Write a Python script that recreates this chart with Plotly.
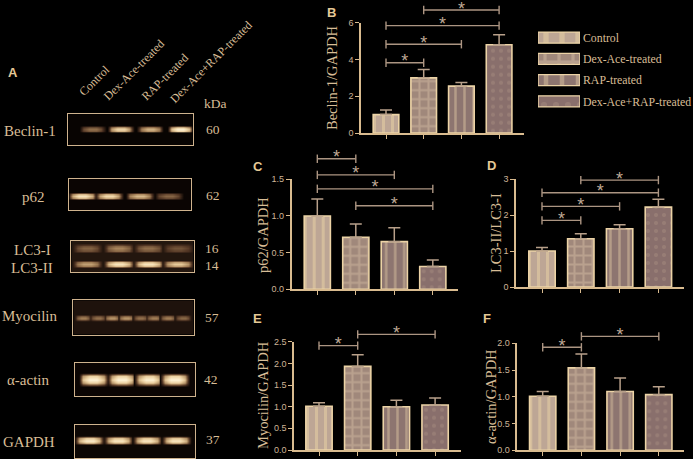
import numpy as np
import plotly.graph_objects as go

W, H = 693, 459
groups = ["Control", "Dex-Ace-treated", "RAP-treated", "Dex-Ace+RAP-treated"]

# bar chart values
beclin_vals = [1.0, 3.0, 2.55, 4.8]
beclin_tops = [1.25, 3.45, 2.75, 5.35]
beclin_brackets = [(0, 1, 3.82), (0, 2, 4.83), (0, 3, 5.84), (1, 3, 6.69)]
p62_vals = [1.0, 0.71, 0.65, 0.31]
p62_tops = [1.23, 0.89, 0.84, 0.40]
p62_brackets = [(0, 1, 1.78), (0, 2, 1.56), (0, 3, 1.37), (1, 3, 1.14)]
lc3_vals = [1.0, 1.34, 1.62, 2.22]
lc3_tops = [1.10, 1.48, 1.73, 2.44]
lc3_brackets = [(0, 1, 1.85), (0, 2, 2.24), (0, 3, 2.62), (1, 3, 2.97)]
myo_vals = [1.01, 1.93, 1.0, 1.04]
myo_tops = [1.09, 2.2, 1.15, 1.2]
myo_brackets = [(0, 1, 2.41), (1, 3, 2.67)]
actin_vals = [1.01, 1.54, 1.1, 1.04]
actin_tops = [1.1, 1.8, 1.35, 1.19]
actin_brackets = [(0, 1, 1.925), (1, 3, 2.13)]

# blot band strengths by lane
beclin_bands = [0.5, 0.85, 0.72, 1.0]
p62_bands = [0.9, 0.85, 0.72, 0.45]
lc3i_bands = [0.38, 0.5, 0.42, 0.32]
lc3ii_bands = [0.6, 0.9, 0.9, 0.75]
myo_bands = [0.5, 0.45, 0.58, 0.58, 0.45, 0.5, 0.5, 0.42]
actin_bands = [1.0, 1.0, 0.98, 1.0]
gapdh_bands = [0.95, 0.92, 0.92, 0.92]

TAN = "#d8bd96"
AXIS = "#d9bb8f"
EDGE = "#ecd3a6"
BRK = "#ac9582"
SERIF = "Liberation Serif"
SANS = "Liberation Sans"

styles = [
    dict(shape="|", fgcolor="#ecd3a6", bgcolor="#bda695", solidity=0.33),
    dict(shape="+", fgcolor="#d2baa2", bgcolor="#a0887b", solidity=0.4),
    dict(shape="|", fgcolor="#dcc4a0", bgcolor="#8d7570", solidity=0.28),
    dict(shape=".", fgcolor="#a58c80", bgcolor="#896f6c", solidity=0.2),
]
sizes = [9, 9, 9, 8]

fig = go.Figure()
layout = {}
annots = []
axis_n = [0]


def px(x, y):
    return x / W, 1 - y / H


def new_axes(x0, x1, ytop, ybot):
    axis_n[0] += 1
    n = axis_n[0]
    sx = "" if n == 1 else str(n)
    return n, sx, [x0 / W, x1 / W], [1 - ybot / H, 1 - ytop / H]


def text(s, x, y, size=14, color=TAN, font=SERIF, angle=0, bold=False):
    fx, fy = px(x, y)
    annots.append(dict(text=f"<b>{s}</b>" if bold else s, x=fx, y=fy, xref="paper", yref="paper",
                       showarrow=False, textangle=angle, xanchor="center", yanchor="middle",
                       font=dict(family=font, size=size, color=color)))


def bar_panel(vals, tops, brackets, box, yrange, dtick, fmt, title, title_xy, extra):
    x0, x1, ytop, ybot, c0, step = box
    n, sx, dx, dy = new_axes(x0, x1, ytop, ybot)
    xa, ya = f"x{sx}", f"y{sx}"
    # a hidden y axis on the same scale reaches above the drawn one, for the brackets
    n2, sy2, _, dy2 = new_axes(x0, x1, ytop - extra, ybot)
    ya2 = f"y{sy2}"
    for i, v in enumerate(vals):
        fig.add_trace(go.Bar(
            x=[i], y=[v], xaxis=xa, yaxis=ya, width=0.68, name=groups[i], showlegend=False,
            marker=dict(color=styles[i]["bgcolor"], line=dict(color=EDGE, width=1.6),
                        pattern=dict(size=sizes[i], **styles[i])),
            error_y=dict(type="data", symmetric=False, array=[tops[i] - v], arrayminus=[0],
                         color="#b8a08a", thickness=1.5, width=6),
        ))
    for a, b, h in brackets:
        fig.add_trace(go.Scatter(
            x=[a, b], y=[h, h], xaxis=xa, yaxis=ya2, mode="lines+markers", showlegend=False,
            cliponaxis=False, line=dict(color=BRK, width=1.4),
            marker=dict(symbol="line-ns", size=6, line=dict(color=BRK, width=1.4)),
        ))
        fig.add_trace(go.Scatter(
            x=[(a + b) / 2], y=[h], xaxis=xa, yaxis=ya2, mode="text", text=["*"], showlegend=False,
            cliponaxis=False, textposition="middle center",
            textfont=dict(family=SANS, size=18, color="#bfa895"),
        ))
    left = (x0 - c0) / step
    right = (x1 - c0) / step
    layout[f"xaxis{sx}"] = dict(domain=dx, anchor=ya, range=[left, right], tickvals=[0, 1, 2, 3],
                                ticktext=["", "", "", ""], ticks="outside", ticklen=4, tickwidth=1.3,
                                tickcolor=AXIS, showline=True, linecolor=AXIS, linewidth=1.6,
                                showgrid=False, zeroline=False, fixedrange=True)
    layout[f"yaxis{sx}"] = dict(domain=dy, anchor=xa, range=yrange, dtick=dtick, tickformat=fmt,
                                ticks="outside", ticklen=4, tickwidth=1.3, tickcolor=AXIS,
                                showline=True, linecolor=AXIS, linewidth=1.6, showgrid=False,
                                zeroline=False, fixedrange=True,
                                tickfont=dict(family=SANS, size=9, color="#cdb497"))
    layout[f"yaxis{sy2}"] = dict(domain=dy2, anchor=xa, visible=False, fixedrange=True,
                                 range=[0, yrange[1] * (ybot - ytop + extra) / (ybot - ytop)])
    text(title, title_xy[0], title_xy[1], size=14.5, angle=-90)


bar_panel(beclin_vals, beclin_tops, beclin_brackets, (361, 524, 22.7, 133, 386, 37.7), [0, 6], 2, "d",
          "Beclin-1/GAPDH", (332, 78), 20)
bar_panel(p62_vals, p62_tops, p62_brackets, (291.7, 458, 179.3, 289.3, 317.3, 38.5), [0, 1.5], 0.5, ".1f",
          "p62/GAPDH", (263, 235), 25)
bar_panel(lc3_vals, lc3_tops, lc3_brackets, (516, 684.3, 179, 287, 542, 38.8), [0, 3], 1, "d",
          "LC3-II/LC3-I", (496, 233), 10)
bar_panel(myo_vals, myo_tops, myo_brackets, (294, 461, 341.7, 450, 319, 38.7), [0, 2.5], 0.5, ".1f",
          "Myocilin/GAPDH", (263, 395), 20)
bar_panel(actin_vals, actin_tops, actin_brackets, (517.3, 684.3, 343.3, 450.3, 542.7, 38.7), [0, 2], 0.5, ".1f",
          "α-actin/GAPDH", (491, 397), 20)

# legend, drawn as a small horizontal bar chart with labels on the right
n, sx, dx, dy = new_axes(538, 580, 27, 112)
for i, g in enumerate(groups):
    st = dict(styles[i])
    fig.add_trace(go.Bar(
        y=[g], x=[1], orientation="h", xaxis=f"x{sx}", yaxis=f"y{sx}", width=0.52, showlegend=False,
        marker=dict(color=st["bgcolor"], line=dict(color=EDGE, width=1.4),
                    pattern=dict(size=[16, 14, 16, 12][i], **st)),
    ))
layout[f"xaxis{sx}"] = dict(domain=dx, anchor=f"y{sx}", range=[0, 1], visible=False, fixedrange=True)
layout[f"yaxis{sx}"] = dict(domain=dy, anchor=f"x{sx}", side="right", categoryorder="array",
                            categoryarray=groups[::-1], showline=False, showgrid=False, ticks="",
                            zeroline=False, fixedrange=True, ticklen=0, ticklabelstandoff=2,
                            tickfont=dict(family=SERIF, size=11.8, color=TAN))


# western blot panels, built from lane strengths
BLOT_SCALE = [[0, "#060201"], [0.3, "#4f3322"], [0.55, "#a58158"], [0.8, "#ecd0a0"], [1, "#fff3d6"]]


def blot(box, centres, half, rows, base):
    x0, x1, ytop, ybot = box
    n, sx, dx, dy = new_axes(x0, x1, ytop, ybot)
    xs = [0.0]
    col = [[0.0] * len(rows)]
    for i, c in enumerate(centres):
        for off, k in [(-1.25, 0.0), (-0.85, 0.75), (-0.3, 1.0), (0.3, 1.0), (0.85, 0.75), (1.25, 0.0)]:
            xs.append(c + off * half)
            col.append([k * r["levels"][i] for r in rows])
    xs.append(1.0)
    col.append([0.0] * len(rows))
    col = np.array(col)
    ys = [0.0]
    prof = []
    for j, r in enumerate(rows):
        for off, k in [(-1.6, 0.0), (-0.8, 0.8), (0.0, 1.0), (0.8, 0.8), (1.6, 0.0)]:
            ys.append(r["pos"] + off * r["thick"])
            prof.append((j, k))
    ys.append(1.0)
    z = np.zeros((len(ys), len(xs))) + base
    for iy, (j, k) in enumerate(prof):
        z[iy + 1] = base + (1 - base) * col[:, j] * k
    fig.add_trace(go.Heatmap(x=xs, y=ys, z=z.tolist(), xaxis=f"x{sx}", yaxis=f"y{sx}", zmin=0, zmax=1,
                             zsmooth="best", colorscale=BLOT_SCALE, showscale=False, hoverinfo="skip"))
    common = dict(showline=True, linecolor="#cfb38e", linewidth=1.4, mirror=True, showgrid=False,
                  zeroline=False, ticks="", showticklabels=False, fixedrange=True)
    layout[f"xaxis{sx}"] = dict(domain=dx, anchor=f"y{sx}", range=[0, 1], **common)
    layout[f"yaxis{sx}"] = dict(domain=dy, anchor=f"x{sx}", range=[0, 1], **common)


blot((68.3, 193, 114.3, 145.3), [0.195, 0.42, 0.655, 0.9], 0.085,
     [dict(pos=0.52, thick=0.07, levels=beclin_bands)], 0.01)
blot((69, 190.7, 179, 210.3), [0.11, 0.33, 0.58, 0.82], 0.095,
     [dict(pos=0.45, thick=0.075, levels=p62_bands)], 0.02)
blot((71.3, 193.7, 241, 272), [0.13, 0.39, 0.63, 0.87], 0.1,
     [dict(pos=0.25, thick=0.085, levels=lc3ii_bands), dict(pos=0.76, thick=0.1, levels=lc3i_bands)], 0.12)
blot((73.3, 193.7, 300.3, 334.7), [0.08, 0.205, 0.32, 0.44, 0.56, 0.67, 0.785, 0.91], 0.055,
     [dict(pos=0.49, thick=0.07, levels=myo_bands)], 0.1)
blot((74.7, 195.3, 362.7, 396.3), [0.155, 0.39, 0.615, 0.83], 0.1,
     [dict(pos=0.5, thick=0.13, levels=actin_bands)], 0.02)
blot((75, 195.3, 424.7, 458), [0.12, 0.36, 0.6, 0.84], 0.1,
     [dict(pos=0.53, thick=0.085, levels=gapdh_bands)], 0.03)

for s, x, y in [("Beclin-1", 30, 131), ("p62", 33, 197), ("LC3-I", 32, 250), ("LC3-II", 32, 268),
                ("Myocilin", 29, 316), ("α-actin", 28, 380), ("GAPDH", 29, 442)]:
    text(s, x, y, size=15)
for s, x, y in [("kDa", 215, 104), ("60", 213, 129), ("62", 213, 196), ("16", 212, 248), ("14", 212, 265),
                ("57", 212, 317), ("42", 211, 379), ("37", 213, 439)]:
    text(s, x, y, size=13.5)
for s, x, y in [("Control", 94, 81), ("Dex-Ace-treated", 134, 70), ("RAP-treated", 165, 77),
                ("Dex-Ace+RAP-treated", 211, 62)]:
    text(s, x, y, size=12, angle=-45)
for s, x, y in [("A", 13, 72), ("B", 331, 12), ("C", 258, 166), ("D", 491, 165), ("E", 257, 318), ("F", 487, 318)]:
    text(s, x, y, size=13, color="#e5c896", font=SANS, bold=True)

fig.update_layout(width=W, height=H, margin=dict(l=0, r=0, t=0, b=0, autoexpand=False), paper_bgcolor="black",
                  plot_bgcolor="rgba(0,0,0,0)", showlegend=False, barmode="overlay", annotations=annots, **layout)
fig.write_html("out.html", config={"displayModeBar": False},
               post_script="document.body.style.margin='0';document.body.style.background='black';")
